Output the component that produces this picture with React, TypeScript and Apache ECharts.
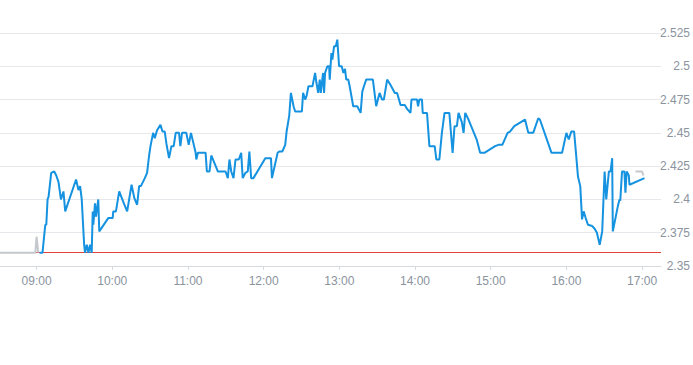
import React, { useEffect, useRef } from "react";
import * as echarts from "echarts";

// minutes after 09:00
const priceTimes = [
  2.4, 4.7, 6.9, 7.7, 8.7, 9.5, 11.6, 14.0, 15.6, 17.4, 19.3, 21.3, 22.7, 31.3, 33.2, 34.5, 35.8, 37.7, 38.4, 39.8,
  41.1, 42.4, 43.7, 44.5, 45.0, 46.3, 47.1, 48.9, 49.7, 56.8, 60.3, 60.8, 62.9, 65.5, 69.2, 71.8, 75.3, 77.5, 79.7, 81.3,
  82.7, 85.8, 87.6, 89.2, 90.3, 92.4, 93.7, 95.5, 98.2, 99.8, 101.6, 102.9, 105.0, 106.9, 108.7, 110.3, 112.9, 114.0, 115.3, 118.7,
  120.6, 122.4, 126.1, 126.6, 127.9, 134.0, 135.0, 137.1, 138.5, 143.7, 149.8, 151.6, 152.9, 154.3, 156.1, 157.7, 160.3, 162.2, 163.4, 165.6,
  167.4, 168.7, 170.1, 171.9, 181.3, 185.8, 186.6, 191.1, 192.4, 194.8, 197.1, 198.2, 200.3, 201.6, 203.7, 205.0, 210.3, 211.3, 212.9, 214.1,
  215.5, 218.7, 220.8, 221.8, 223.2, 224.5, 225.3, 227.1, 227.9, 228.7, 230.5, 231.9, 232.4, 233.7, 234.5, 235.8, 237.2, 238.4, 239.8, 241.9,
  243.2, 244.5, 245.5, 247.1, 248.2, 251.0, 254.2, 256.9, 258.2, 259.5, 261.3, 266.6, 269.2, 271.9, 273.9, 275.3, 277.9, 280.6, 284.0, 285.8,
  288.5, 291.9, 293.7, 296.4, 297.2, 301.6, 302.4, 303.5, 305.5, 306.1, 309.5, 311.4, 315.6, 316.9, 319.3, 321.3, 323.4, 327.2, 329.8, 331.3,
  333.2, 334.5, 337.1, 338.5, 339.8, 342.4, 348.9, 351.6, 355.0, 363.5, 366.1, 369.2, 373.4, 375.3, 378.7, 387.2, 389.8, 393.7, 397.7, 399.0,
  408.2, 416.6, 420.0, 421.9, 423.9, 426.1, 427.4, 429.2, 431.0, 432.4, 433.7, 435.3, 437.1, 440.5, 442.4, 444.2, 446.4, 448.4, 450.3, 451.6,
  453.7, 455.0, 456.3, 456.8, 460.8, 462.1, 462.7, 464.1, 466.0, 466.8, 467.8, 469.5, 470.0, 481.9,
];
const priceValues = [
  2.36, 2.36, 2.381, 2.381, 2.4, 2.402, 2.42, 2.421, 2.418, 2.413, 2.4, 2.406, 2.391, 2.415, 2.407, 2.41, 2.4, 2.366, 2.36, 2.366,
  2.36, 2.366, 2.36, 2.391, 2.381, 2.397, 2.387, 2.4, 2.376, 2.386, 2.386, 2.391, 2.391, 2.406, 2.397, 2.391, 2.411, 2.401, 2.396, 2.41,
  2.41, 2.416, 2.42, 2.433, 2.44, 2.45, 2.446, 2.452, 2.456, 2.451, 2.451, 2.442, 2.431, 2.44, 2.44, 2.45, 2.45, 2.44, 2.45, 2.45,
  2.441, 2.45, 2.435, 2.43, 2.435, 2.435, 2.421, 2.421, 2.433, 2.421, 2.421, 2.416, 2.43, 2.421, 2.416, 2.43, 2.43, 2.435, 2.416, 2.42,
  2.421, 2.436, 2.416, 2.416, 2.431, 2.431, 2.416, 2.435, 2.436, 2.436, 2.441, 2.451, 2.463, 2.48, 2.47, 2.466, 2.466, 2.48, 2.475, 2.478,
  2.485, 2.485, 2.495, 2.488, 2.48, 2.49, 2.48, 2.495, 2.48, 2.495, 2.5, 2.5, 2.49, 2.51, 2.505, 2.515, 2.515, 2.52, 2.5, 2.5,
  2.495, 2.498, 2.49, 2.49, 2.485, 2.47, 2.47, 2.465, 2.481, 2.485, 2.49, 2.49, 2.47, 2.48, 2.475, 2.475, 2.49, 2.486, 2.48, 2.48,
  2.471, 2.471, 2.468, 2.465, 2.475, 2.475, 2.47, 2.475, 2.475, 2.465, 2.465, 2.44, 2.44, 2.43, 2.43, 2.45, 2.465, 2.465, 2.435, 2.455,
  2.455, 2.465, 2.458, 2.45, 2.465, 2.46, 2.445, 2.435, 2.435, 2.44, 2.441, 2.441, 2.45, 2.451, 2.455, 2.46, 2.45, 2.45, 2.461, 2.46,
  2.435, 2.435, 2.45, 2.445, 2.451, 2.451, 2.437, 2.417, 2.41, 2.385, 2.391, 2.386, 2.381, 2.38, 2.378, 2.375, 2.366, 2.376, 2.421, 2.4,
  2.421, 2.421, 2.431, 2.376, 2.395, 2.4, 2.399, 2.421, 2.421, 2.405, 2.421, 2.418, 2.411, 2.416,
];

// grey segments (pre-open and closing auction)
const greyTimes = [-29, -1, 0, 1.3, null, 474.8, 480.0, 481.1];
const greyValues = [2.36, 2.36, 2.372, 2.36, null, 2.421, 2.421, 2.418];

const prevClose = 2.36;
const yTicks = { min: 2.35, max: 2.525, step: 0.025 };
const xRange = { min: -29, max: 495 };
const hourTicks = [0, 60, 120, 180, 240, 300, 360, 420, 480];

function fmtTime(v: number): string {
  const total = 9 * 60 + v;
  const h = Math.floor(total / 60);
  const m = Math.round(total % 60);
  return String(h).padStart(2, "0") + ":" + String(m).padStart(2, "0");
}

export default function App() {
  const ref = useRef<HTMLDivElement>(null);
  useEffect(() => {
    if (!ref.current) return;
    const chart = echarts.init(ref.current, undefined, { renderer: "svg" });
    const priceData = priceTimes.map((t, i) => [t, priceValues[i]]);
    const greyData = greyTimes.map((t, i) => (t === null ? [null, null] : [t, greyValues[i]]));
    chart.setOption({
      animation: false,
      grid: { left: 0, right: 30, top: 33, bottom: 99, containLabel: false },
      xAxis: {
        type: "value",
        min: xRange.min,
        max: xRange.max,
        splitLine: { show: false },
        axisLine: { show: true, lineStyle: { color: "#d6d9de", width: 1 } },
        axisTick: { show: true, length: 4, lineStyle: { color: "#d6d9de" }, customValues: hourTicks },
        axisLabel: {
          color: "#8a939e",
          fontSize: 12,
          fontFamily: "Liberation Sans, Arial, sans-serif",
          margin: 9,
          customValues: hourTicks,
          formatter: (v: number) => fmtTime(v),
        },
      },
      yAxis: {
        type: "value",
        position: "right",
        min: yTicks.min,
        max: yTicks.max,
        interval: yTicks.step,
        axisLine: { show: false },
        axisTick: { show: false },
        splitLine: { show: true, lineStyle: { color: "#e6e8eb", width: 1 } },
        axisLabel: {
          color: "#8a939e",
          fontSize: 12,
          fontFamily: "Liberation Sans, Arial, sans-serif",
          align: "right",
          margin: 29,
        },
      },
      series: [
        {
          type: "line",
          data: [],
          symbol: "none",
          z: 1,
          markLine: {
            silent: true,
            z: 1,
            symbol: ["none", "none"],
            label: { show: false },
            lineStyle: { color: "#e0443c", width: 1, type: "solid" },
            data: [{ yAxis: prevClose }],
          },
        },
        {
          type: "line",
          data: greyData,
          showSymbol: false,
          symbol: "none",
          connectNulls: false,
          lineStyle: { color: "#c4c7cc", width: 2 },
          z: 3,
        },
        {
          type: "line",
          data: priceData,
          showSymbol: false,
          symbol: "none",
          lineStyle: { color: "#1592e0", width: 2 },
          z: 4,
        },
      ],
    });
    return () => chart.dispose();
  }, []);
  return <div ref={ref} style={{ position: "absolute", left: 0, top: 0, width: 693, height: 365 }} />;
}
